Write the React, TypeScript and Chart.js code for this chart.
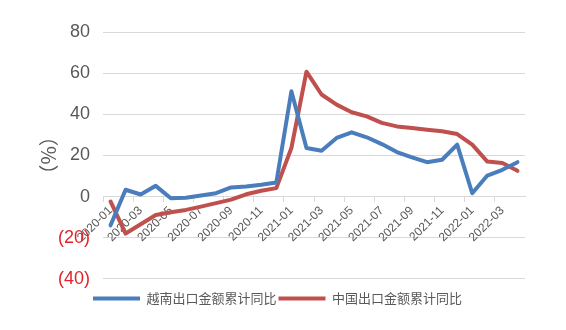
import React, { useEffect, useRef } from "react";
import { Chart, registerables } from "chart.js";

Chart.register(...registerables);

const months: string[] = [
  "2020-01", "2020-02", "2020-03", "2020-04", "2020-05", "2020-06", "2020-07",
  "2020-08", "2020-09", "2020-10", "2020-11", "2020-12",
  "2021-01", "2021-02", "2021-03", "2021-04", "2021-05", "2021-06", "2021-07",
  "2021-08", "2021-09", "2021-10", "2021-11", "2021-12",
  "2022-01", "2022-02", "2022-03", "2022-04",
];

const vietnamExport: number[] = [
  -14, 3.3, 1.0, 5.2, -0.8, -0.6, 0.5, 1.6, 4.4, 4.9, 5.7, 6.8,
  51.2, 23.6, 22.3, 28.5, 31.2, 28.8, 25.5, 21.6, 19.0, 16.7, 17.9, 25.2,
  1.6, 10.2, 13.0, 16.7,
];

const chinaExport: number[] = [
  -2.4, -18, -13.5, -9, -7.6, -6.5, -4.9, -3.2, -1.5, 1.1, 2.8, 4.1,
  23.6, 60.7, 49.6, 44.7, 41, 39, 35.8, 34.1, 33.3, 32.5, 31.7, 30.4,
  25.2, 17, 16.3, 12.5,
];

const seriesNames: string[] = ["越南出口金额累计同比", "中国出口金额累计同比"];
const yTitle = "（%）";

const BLUE = "#4a7dbb";
const RED = "#c0504d";
const GRAY = "#595959";
const GRID = "#d9d9d9";
const NEG = "#e0242a";

export default function App() {
  const ref = useRef<HTMLCanvasElement | null>(null);

  useEffect(() => {
    if (!ref.current) return;
    const chart = new Chart(ref.current, {
      type: "line",
      data: {
        labels: months,
        datasets: [
          {
            label: seriesNames[0],
            data: vietnamExport,
            borderColor: BLUE,
            backgroundColor: BLUE,
            borderWidth: 4,
            pointRadius: 0,
            tension: 0,
            borderJoinStyle: "round",
            borderCapStyle: "round",
          },
          {
            label: seriesNames[1],
            data: chinaExport,
            borderColor: RED,
            backgroundColor: RED,
            borderWidth: 4,
            pointRadius: 0,
            tension: 0,
            borderJoinStyle: "round",
            borderCapStyle: "round",
          },
        ],
      },
      options: {
        responsive: false,
        animation: false,
        layout: { padding: { top: 32, right: 11, bottom: 15, left: 0 } },
        plugins: {
          tooltip: { enabled: false },
          legend: {
            position: "bottom",
            title: {
              display: true,
              text: "",
              font: { size: 1 },
              padding: { top: 0, bottom: 10 },
            },
            labels: {
              boxWidth: 47,
              boxHeight: 4,
              padding: 2,
              color: GRAY,
              font: { family: "'Noto Sans CJK SC', sans-serif", size: 13 },
              generateLabels: (c: any) =>
                Chart.defaults.plugins.legend.labels
                  .generateLabels(c)
                  .map((l: any) => ({ ...l, lineWidth: 0 })),
            },
          },
        },
        scales: {
          x: {
            type: "category",
            offset: true,
            position: { y: 0 } as any,
            border: { display: true, color: GRID, width: 1 },
            grid: {
              offset: true,
              drawOnChartArea: false,
              drawTicks: true,
              tickLength: 5,
              tickColor: (ctx: any) => (ctx.index % 2 === 0 ? GRID : "rgba(0,0,0,0)"),
            },
            ticks: {
              autoSkip: false,
              minRotation: 45,
              maxRotation: 45,
              padding: 2,
              color: GRAY,
              font: { family: "'Liberation Sans', sans-serif", size: 12 },
              callback: (_v: any, i: number) => (i % 2 === 0 ? months[i] : ""),
            },
            afterFit: (s: any) => {
              s.height = 0;
              s.paddingLeft = 0;
              s.paddingRight = 0;
            },
          },
          y: {
            min: -40,
            max: 80,
            border: { display: false },
            grid: { color: GRID, drawTicks: false, lineWidth: 1 },
            ticks: {
              stepSize: 20,
              padding: 13,
              color: (ctx: any) => (ctx.tick && ctx.tick.value < 0 ? NEG : GRAY),
              font: { family: "'Liberation Sans', sans-serif", size: 18 },
              callback: (v: any) => (Number(v) < 0 ? `(${-Number(v)})` : `${v}`),
            },
            title: {
              display: true,
              text: yTitle,
              color: GRAY,
              font: { family: "'Noto Sans CJK SC', sans-serif", size: 20 },
              padding: { top: 36, bottom: 0 },
            },
            afterFit: (s: any) => {
              s.width = 103;
            },
          },
          yRight: {
            position: "right",
            display: true,
            min: -40,
            max: 80,
            border: { display: false },
            grid: { display: false, drawOnChartArea: false },
            ticks: { display: false },
            afterFit: (s: any) => {
              s.width = 30;
            },
          },
        },
      },
    });
    return () => chart.destroy();
  }, []);

  return (
    <div style={{ position: "fixed", left: 0, top: 0, width: 566, height: 330, background: "#fff" }}>
      <canvas ref={ref} width={566} height={330} style={{ display: "block" }} />
    </div>
  );
}
